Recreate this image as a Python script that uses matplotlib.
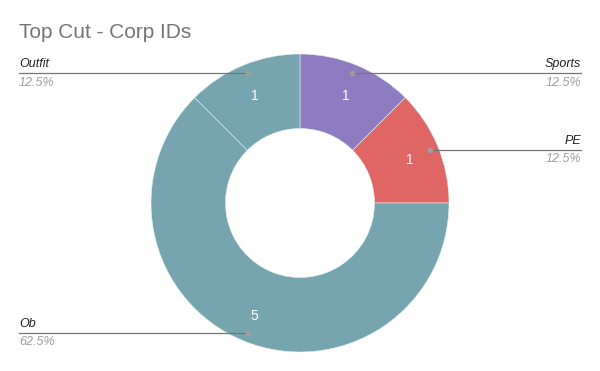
import numpy as np
import matplotlib.pyplot as plt

plt.rcParams['font.family'] = ['Liberation Sans', 'DejaVu Sans']

labels = ['Sports', 'PE', 'Ob', 'Outfit']
values = [1, 1, 5, 1]
colors = ['#8e7cc3', '#e06666', '#76a5af', '#76a5af']
# label line heights (in pie radius units) and which side the label sits on
line_y = [0.872, 0.356, -0.872, 0.872]
side = [1, 1, -1, -1]

fig = plt.figure(figsize=(6, 3.71), dpi=100)
ax = fig.add_axes([151/600, 19/371, 298/600, 298/371])
wedges, _ = ax.pie(values, colors=colors, startangle=90, counterclock=False,
                   radius=1, wedgeprops=dict(width=0.5, edgecolor='#e8f0f2', linewidth=0.4))
ax.set_xlim(-1, 1)
ax.set_ylim(-1, 1)
ax.set_aspect('equal')
ax.axis('off')

total = sum(values)
for w, v in zip(wedges, values):
    mid = np.deg2rad((w.theta1 + w.theta2) / 2)
    ax.text(0.8*np.cos(mid), 0.8*np.sin(mid) - 0.02, str(v), color='white',
            fontsize=10, ha='center', va='center')

for lab, v, ly, s in zip(labels, values, line_y, side):
    r = 0.94
    dx = np.sqrt(r**2 - ly**2) * s
    xend = 1.886 * s
    ax.plot([dx, xend], [ly, ly], color='#757575', lw=0.9, clip_on=False)
    ax.plot(dx, ly, 'o', color='#9e9e9e', ms=3, clip_on=False)
    ha = 'right' if s > 0 else 'left'
    ax.annotate(lab, (xend, ly), xytext=(0, 2), textcoords='offset points',
                ha=ha, va='bottom', fontsize=9, style='italic', color='#222222',
                annotation_clip=False)
    ax.annotate('%.1f%%' % (100*v/total), (xend, ly), xytext=(0, -2.5),
                textcoords='offset points', ha=ha, va='top', fontsize=9,
                style='italic', color='#9e9e9e', annotation_clip=False)

fig.text(19/600, 1 - 23/371, 'Top Cut - Corp IDs', fontsize=15, color='#757575',
         ha='left', va='top')

fig.savefig('out.png', dpi=100)
